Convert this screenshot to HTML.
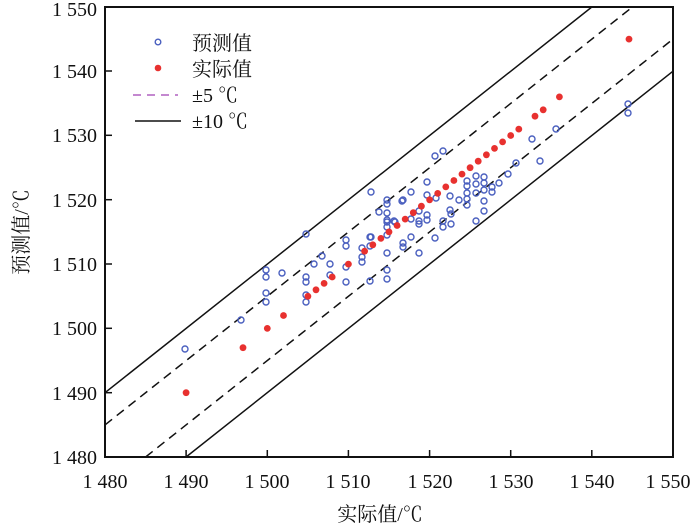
<!DOCTYPE html>
<html><head><meta charset="utf-8"><style>body{margin:0;background:#fff}svg{display:block}text{font-family:"Liberation Serif","Noto Serif CJK SC",serif;fill:#111}</style></head><body>
<svg width="700" height="530" viewBox="0 0 700 530">
<defs><clipPath id="c"><rect x="105" y="7" width="568" height="450"/></clipPath></defs>
<g clip-path="url(#c)" stroke="#111" stroke-width="1.5" fill="none">
<line x1="105" y1="392.7" x2="591.8" y2="7"/>
<line x1="186.1" y1="457" x2="673" y2="71.2"/>
<line x1="105" y1="424.9" x2="632.4" y2="7" stroke-dasharray="9,6"/>
<line x1="145.6" y1="457" x2="673" y2="39.1" stroke-dasharray="9,6"/>
</g>
<rect x="105" y="7" width="568" height="450" fill="none" stroke="#111" stroke-width="2"/>
<g stroke="#111" stroke-width="1.5">
<line x1="186.1" y1="457" x2="186.1" y2="450"/><line x1="267.3" y1="457" x2="267.3" y2="450"/><line x1="348.4" y1="457" x2="348.4" y2="450"/><line x1="429.6" y1="457" x2="429.6" y2="450"/><line x1="510.7" y1="457" x2="510.7" y2="450"/><line x1="591.8" y1="457" x2="591.8" y2="450"/>
<line x1="105" y1="392.7" x2="112" y2="392.7"/><line x1="105" y1="328.3" x2="112" y2="328.3"/><line x1="105" y1="264" x2="112" y2="264"/><line x1="105" y1="199.7" x2="112" y2="199.7"/><line x1="105" y1="135.3" x2="112" y2="135.3"/><line x1="105" y1="71" x2="112" y2="71"/>
</g>
<g font-size="20" text-anchor="end">
<text x="97" y="464">1 480</text><text x="97" y="400">1 490</text><text x="97" y="335">1 500</text><text x="97" y="271">1 510</text><text x="97" y="207">1 520</text><text x="97" y="142">1 530</text><text x="97" y="78">1 540</text><text x="97" y="16">1 550</text>
</g>
<g font-size="20" text-anchor="middle">
<text x="105" y="488">1 480</text><text x="186" y="488">1 490</text><text x="267" y="488">1 500</text><text x="348" y="488">1 510</text><text x="430" y="488">1 520</text><text x="511" y="488">1 530</text><text x="592" y="488">1 540</text><text x="668" y="488">1 550</text>
<text x="380" y="521">实际值/℃</text>
<text transform="translate(28,232) rotate(-90)">预测值/℃</text>
</g>
<g font-size="20">
<circle cx="158" cy="42" r="2.8" fill="none" stroke="#4a5fbf" stroke-width="1.4"/><text x="192" y="50">预测值</text>
<circle cx="158" cy="68" r="3.3" fill="#e8312f"/><text x="192" y="76">实际值</text>
<line x1="133" y1="95" x2="178" y2="95" stroke="#b060c0" stroke-width="1.5" stroke-dasharray="8,6"/><text x="192" y="102">±5 ℃</text>
<line x1="135" y1="121" x2="181" y2="121" stroke="#111" stroke-width="1.5"/><text x="192" y="128">±10 ℃</text>
</g>
<g fill="none" stroke="#4a5fbf" stroke-width="1.4">
<circle cx="185" cy="349" r="3"/><circle cx="241" cy="320" r="3"/><circle cx="266" cy="270" r="3"/><circle cx="266" cy="277" r="3"/><circle cx="266" cy="293" r="3"/><circle cx="266" cy="302" r="3"/><circle cx="282" cy="273" r="3"/><circle cx="306" cy="234" r="3"/><circle cx="306" cy="277" r="3"/><circle cx="306" cy="282" r="3"/><circle cx="306" cy="295" r="3"/><circle cx="306" cy="302" r="3"/><circle cx="314" cy="264" r="3"/><circle cx="322" cy="256" r="3"/><circle cx="330" cy="264" r="3"/><circle cx="330" cy="275" r="3"/><circle cx="346" cy="240" r="3"/><circle cx="346" cy="246" r="3"/><circle cx="346" cy="267" r="3"/><circle cx="346" cy="282" r="3"/><circle cx="362" cy="248" r="3"/><circle cx="362" cy="257" r="3"/><circle cx="362" cy="262" r="3"/><circle cx="370" cy="237" r="3"/><circle cx="370" cy="246" r="3"/><circle cx="370" cy="281" r="3"/><circle cx="387" cy="222" r="3"/><circle cx="387" cy="227" r="3"/><circle cx="387" cy="235" r="3"/><circle cx="387" cy="253" r="3"/><circle cx="387" cy="270" r="3"/><circle cx="387" cy="279" r="3"/>
<circle cx="371" cy="192" r="3"/><circle cx="387" cy="200" r="3"/><circle cx="387" cy="204" r="3"/><circle cx="379" cy="212" r="3"/><circle cx="387" cy="213" r="3"/><circle cx="387" cy="220" r="3"/><circle cx="395" cy="222" r="3"/><circle cx="402" cy="201" r="3"/><circle cx="411" cy="192" r="3"/><circle cx="411" cy="219" r="3"/><circle cx="419" cy="221" r="3"/><circle cx="427" cy="182" r="3"/><circle cx="427" cy="195" r="3"/><circle cx="427" cy="215" r="3"/><circle cx="427" cy="220" r="3"/><circle cx="435" cy="156" r="3"/><circle cx="443" cy="151" r="3"/><circle cx="436" cy="198" r="3"/><circle cx="443" cy="221" r="3"/><circle cx="443" cy="227" r="3"/><circle cx="450" cy="196" r="3"/><circle cx="450" cy="210" r="3"/><circle cx="371" cy="237" r="3"/><circle cx="411" cy="237" r="3"/>
<circle cx="532" cy="139" r="3"/><circle cx="556" cy="129" r="3"/><circle cx="540" cy="161" r="3"/><circle cx="516" cy="163" r="3"/><circle cx="508" cy="174" r="3"/><circle cx="499" cy="183" r="3"/><circle cx="492" cy="187" r="3"/><circle cx="492" cy="192" r="3"/><circle cx="484" cy="177" r="3"/><circle cx="484" cy="183" r="3"/><circle cx="484" cy="190" r="3"/><circle cx="484" cy="201" r="3"/><circle cx="484" cy="211" r="3"/><circle cx="476" cy="176" r="3"/><circle cx="476" cy="184" r="3"/><circle cx="476" cy="193" r="3"/><circle cx="476" cy="221" r="3"/><circle cx="467" cy="181" r="3"/><circle cx="467" cy="186" r="3"/><circle cx="467" cy="193" r="3"/><circle cx="467" cy="199" r="3"/><circle cx="467" cy="205" r="3"/><circle cx="459" cy="200" r="3"/><circle cx="451" cy="214" r="3"/><circle cx="451" cy="224" r="3"/><circle cx="435" cy="238" r="3"/><circle cx="419" cy="211" r="3"/><circle cx="419" cy="224" r="3"/><circle cx="419" cy="253" r="3"/><circle cx="403" cy="200" r="3"/><circle cx="403" cy="243" r="3"/><circle cx="403" cy="247" r="3"/><circle cx="394" cy="221" r="3"/>
<circle cx="628" cy="104" r="3"/><circle cx="628" cy="113" r="3"/>
</g>
<g fill="#e8312f">
<circle cx="186.1" cy="392.7" r="3.4"/><circle cx="243" cy="347.7" r="3.4"/><circle cx="267.3" cy="328.4" r="3.4"/><circle cx="283.5" cy="315.5" r="3.4"/><circle cx="307.9" cy="296.3" r="3.4"/><circle cx="316" cy="289.8" r="3.4"/><circle cx="324.1" cy="283.4" r="3.4"/><circle cx="332.2" cy="277" r="3.4"/><circle cx="348.4" cy="264.1" r="3.4"/><circle cx="364.6" cy="251.2" r="3.4"/><circle cx="372.8" cy="244.8" r="3.4"/><circle cx="380.9" cy="238.4" r="3.4"/><circle cx="389" cy="231.9" r="3.4"/><circle cx="397.1" cy="225.5" r="3.4"/><circle cx="405.2" cy="219.1" r="3.4"/><circle cx="413.3" cy="212.7" r="3.4"/><circle cx="421.4" cy="206.2" r="3.4"/><circle cx="429.6" cy="199.8" r="3.4"/><circle cx="437.7" cy="193.4" r="3.4"/><circle cx="445.8" cy="186.9" r="3.4"/><circle cx="453.9" cy="180.5" r="3.4"/><circle cx="462" cy="174.1" r="3.4"/><circle cx="470.1" cy="167.7" r="3.4"/><circle cx="478.2" cy="161.2" r="3.4"/><circle cx="486.4" cy="154.8" r="3.4"/><circle cx="494.5" cy="148.4" r="3.4"/><circle cx="502.6" cy="141.9" r="3.4"/><circle cx="510.7" cy="135.5" r="3.4"/><circle cx="518.8" cy="129.1" r="3.4"/><circle cx="535" cy="116.2" r="3.4"/><circle cx="543.2" cy="109.8" r="3.4"/><circle cx="559.4" cy="96.9" r="3.4"/><circle cx="629" cy="39.1" r="3.4"/>
</g>
</svg>
</body></html>
